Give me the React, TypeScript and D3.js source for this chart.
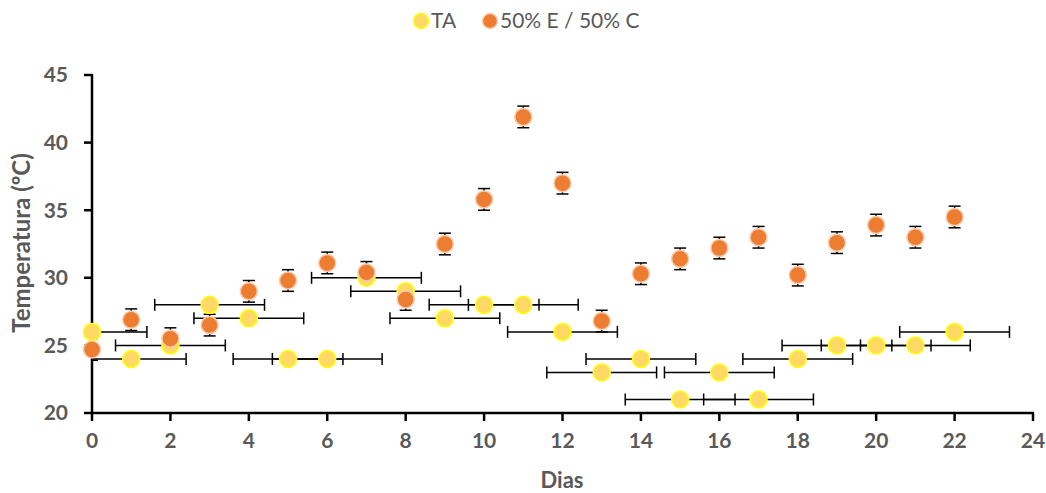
import React from "react";
import * as d3 from "d3";

const days = [0, 1, 2, 3, 4, 5, 6, 7, 8, 9, 10, 11, 12, 13, 14, 15, 16, 17, 18, 19, 20, 21, 22];
const taValues = [26, 24, 25, 28, 27, 24, 24, 30, 29, 27, 28, 28, 26, 23, 24, 21, 23, 21, 24, 25, 25, 25, 26];
const mixValues = [24.7, 26.9, 25.5, 26.5, 29.0, 29.8, 31.1, 30.4, 28.4, 32.5, 35.8, 41.9, 37.0, 26.8, 30.3, 31.4, 32.2, 33.0, 30.2, 32.6, 33.9, 33.0, 34.5];
const taXError = 1.4;
const mixYError = 0.8;
const xTicks = [0, 2, 4, 6, 8, 10, 12, 14, 16, 18, 20, 22, 24];
const yTicks = [20, 25, 30, 35, 40, 45];
const seriesNames = ["TA", "50% E / 50% C"];

const W = 1046;
const H = 493;
const left = 92, right = 1033, top = 75, bottom = 413;

export default function App() {
  const x = d3.scaleLinear().domain([0, 24]).range([left, right]);
  const y = d3.scaleLinear().domain([20, 45]).range([bottom, top]);
  const font = "Lato, 'Open Sans', sans-serif";
  const gray = "#595959";
  const cap = 6;
  const r = 8.5;
  return (
    <svg width={W} height={H} style={{ position: "absolute", left: 0, top: 0 }} xmlns="http://www.w3.org/2000/svg">
      <defs>
        <clipPath id="plotclip">
          <rect x={left} y={top} width={right - left} height={bottom - top} />
        </clipPath>
      </defs>
      <rect width={W} height={H} fill="#fff" />
      {/* legend */}
      <g fontFamily={font} fontSize={21} fill={gray}>
        <circle cx={421} cy={21} r={7.5} fill="#FFD966" stroke="#FFFF00" strokeWidth={1.5} />
        <text x={431} y={21} dy="0.35em">{seriesNames[0]}</text>
        <circle cx={490} cy={21} r={7.5} fill="#ED7D31" stroke="#F8CBAD" strokeWidth={1.5} />
        <text x={500} y={21} dy="0.35em">{seriesNames[1]}</text>
      </g>
      {/* error bars */}
      <g clipPath="url(#plotclip)" stroke="#000" strokeWidth={1.5}>
        {days.map((d, i) => {
          const cy = y(taValues[i]);
          const x1 = x(d - taXError), x2 = x(d + taXError);
          return (
            <g key={"ta" + i}>
              <line x1={x1} x2={x2} y1={cy} y2={cy} />
              <line x1={x1} x2={x1} y1={cy - cap} y2={cy + cap} />
              <line x1={x2} x2={x2} y1={cy - cap} y2={cy + cap} />
            </g>
          );
        })}
        {days.map((d, i) => {
          const cx = x(d);
          const y1 = y(mixValues[i] + mixYError), y2 = y(mixValues[i] - mixYError);
          return (
            <g key={"mx" + i}>
              <line x1={cx} x2={cx} y1={y1} y2={y2} />
              <line x1={cx - cap} x2={cx + cap} y1={y1} y2={y1} />
              <line x1={cx - cap} x2={cx + cap} y1={y2} y2={y2} />
            </g>
          );
        })}
      </g>
      {/* axes */}
      <g stroke="#000" strokeWidth={2.5}>
        <line x1={left} x2={left} y1={top - 1} y2={bottom + 1} />
        <line x1={left - 1} x2={right + 1} y1={bottom} y2={bottom} />
        {yTicks.map((t) => (
          <line key={"yt" + t} x1={left - 8} x2={left} y1={y(t)} y2={y(t)} />
        ))}
        {xTicks.map((t) => (
          <line key={"xt" + t} x1={x(t)} x2={x(t)} y1={bottom} y2={bottom + 8} />
        ))}
      </g>
      <g fontFamily={font} fontSize={21} fontWeight="bold" fill={gray}>
        {yTicks.map((t) => (
          <text key={"yl" + t} x={68} y={y(t)} dy="0.35em" textAnchor="end">{t}</text>
        ))}
        {xTicks.map((t) => (
          <text key={"xl" + t} x={x(t)} y={441} dy="0.35em" textAnchor="middle">{t}</text>
        ))}
        <text x={562} y={480} dy="0.35em" textAnchor="middle" fontSize={22}>Dias</text>
        <text transform={`translate(22,243) rotate(-90)`} dy="0.35em" textAnchor="middle" fontSize={24}>Temperatura (ºC)</text>
      </g>
      {/* markers */}
      <g>
        {days.map((d, i) => (
          <circle key={"tm" + i} cx={x(d)} cy={y(taValues[i])} r={r} fill="#FFD966" stroke="#FFFF00" strokeWidth={1.5} />
        ))}
        {days.map((d, i) => (
          <circle key={"mm" + i} cx={x(d)} cy={y(mixValues[i])} r={r} fill="#ED7D31" stroke="#F8CBAD" strokeWidth={1.5} />
        ))}
      </g>
    </svg>
  );
}
